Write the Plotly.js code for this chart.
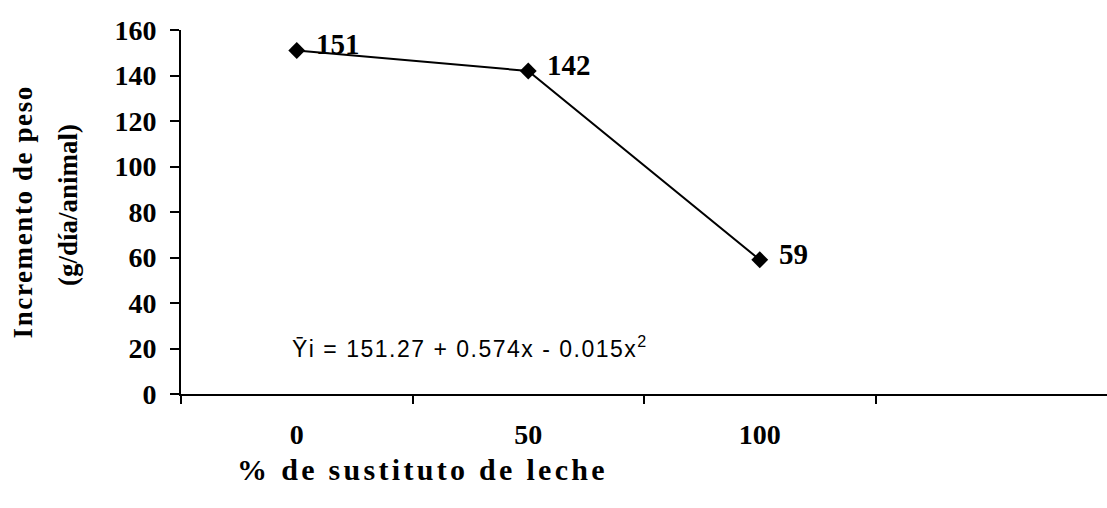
<!DOCTYPE html>
<html>
<head>
<meta charset="utf-8">
<script src="https://cdn.plot.ly/plotly-3.0.1.min.js"></script>
<style>html,body{margin:0;padding:0;background:#fff;}#chart{width:1107px;height:508px;}</style>
</head>
<body>
<div id="chart"></div>
<script>
const sustituto = [0, 50, 100];
const incremento = [151, 142, 59];
const xTickLabels = ['0', '50', '100'];
const yTicks = [0, 20, 40, 60, 80, 100, 120, 140, 160];
const xTitle = '% de sustituto de leche';
const yTitle1 = 'Incremento de peso';
const yTitle2 = '(g/día/animal)';
const equation = 'Ȳi = 151.27 + 0.574x - 0.015x<sup>2</sup>';

const serif = 'Liberation Serif, Times New Roman, serif';
const sans = 'Liberation Sans, Arial, sans-serif';

const W = 1107, H = 508, L = 181, R = 0, T = 30, B = 114;
const px = v => (v - L) / (W - L - R);
const py = v => 1 - (v - T) / (H - T - B);

const trace = {
  x: sustituto, y: incremento, type: 'scatter', mode: 'lines+markers',
  line: {color: '#000', width: 2},
  marker: {symbol: 'diamond', size: 13, color: '#000'},
  hoverinfo: 'skip', showlegend: false, cliponaxis: false
};

const spacing = [];
const annotations = sustituto.map((x, i) => {
  spacing.push(0);
  return {
    x: x, y: incremento[i], xref: 'x', yref: 'y', text: String(incremento[i]),
    showarrow: false, xanchor: 'left', yanchor: 'middle', align: 'left', xshift: 17, yshift: 6,
    font: {family: serif, size: 29, color: '#000', weight: 'bold'}
  };
});
annotations.push({
  x: 0, y: 20, xref: 'x', yref: 'y', text: equation, showarrow: false,
  xanchor: 'left', yanchor: 'middle', align: 'left', xshift: -7, yshift: 2,
  font: {family: sans, size: 23, color: '#000'}
}); spacing.push(1.5);
annotations.push({
  x: px(422), y: py(469), xref: 'paper', yref: 'paper', text: xTitle, showarrow: false,
  xanchor: 'center', yanchor: 'middle',
  font: {family: serif, size: 30, color: '#000', weight: 'bold'}
}); spacing.push(3.3);
annotations.push({
  x: px(23), y: py(212), xref: 'paper', yref: 'paper', text: yTitle1, showarrow: false, textangle: -90,
  xanchor: 'center', yanchor: 'middle',
  font: {family: serif, size: 27, color: '#000', weight: 'bold'}
}); spacing.push(1.6);
annotations.push({
  x: px(68), y: py(205), xref: 'paper', yref: 'paper', text: yTitle2, showarrow: false, textangle: -90,
  xanchor: 'center', yanchor: 'middle',
  font: {family: serif, size: 27, color: '#000', weight: 'bold'}
}); spacing.push(0);

const layout = {
  width: W, height: H,
  margin: {l: L, r: R, t: T, b: B},
  paper_bgcolor: '#fff', plot_bgcolor: '#fff',
  showlegend: false,
  xaxis: {
    range: [-25, 175], tickmode: 'array', tickvals: sustituto, ticktext: xTickLabels,
    ticks: '', showgrid: false, zeroline: false, showline: true, linecolor: '#000', linewidth: 2,
    ticklabelstandoff: 14,
    tickfont: {family: serif, size: 28, color: '#000', weight: 'bold'},
    minor: {tickmode: 'array', tickvals: [-25, 25, 75, 125], ticks: 'outside', ticklen: 8, tickwidth: 2, tickcolor: '#000', showgrid: false}
  },
  yaxis: {
    range: [0, 160], tickmode: 'array', tickvals: yTicks,
    ticks: 'outside', ticklen: 9, tickwidth: 2, tickcolor: '#000',
    showgrid: false, zeroline: false, showline: true, linecolor: '#000', linewidth: 2,
    ticklabelstandoff: 8,
    tickfont: {family: serif, size: 28, color: '#000', weight: 'bold'}
  },
  annotations: annotations
};

Plotly.newPlot('chart', [trace], layout, {displayModeBar: false, staticPlot: true}).then(gd => {
  spacing.forEach((s, i) => {
    if (!s) return;
    gd.querySelectorAll('.annotation[data-index="' + i + '"] .annotation-text').forEach(t => {
      t.style.letterSpacing = s + 'px';
    });
  });
});
</script>
</body>
</html>
